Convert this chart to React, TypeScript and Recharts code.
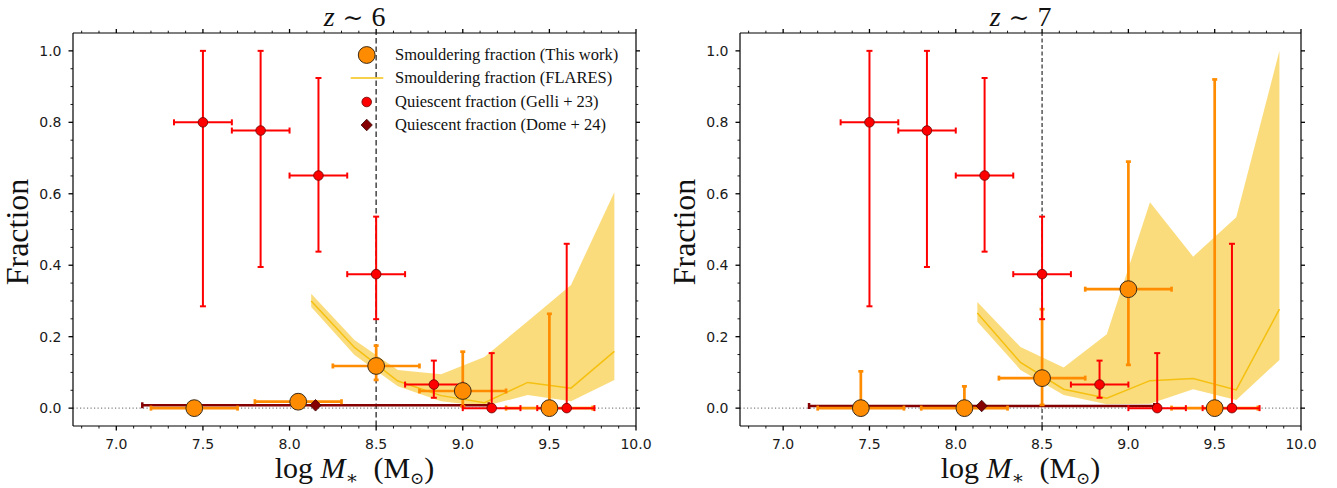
import React from 'react';
import {
  ComposedChart, Area, Line, Scatter, ErrorBar, XAxis, YAxis, ReferenceLine, Legend,
} from 'recharts';

// FLARES smouldering fraction, 0.25 dex bins
const FLARES_MASS = [8.125, 8.375, 8.625, 8.875, 9.125, 9.375, 9.625, 9.875];
const FLARES_Z6_MID = [0.300, 0.170, 0.076, 0.035, 0.015, 0.072, 0.056, 0.159];
const FLARES_Z6_LO = [0.283, 0.149, 0.061, 0.019, 0.005, 0.037, 0.019, 0.079];
const FLARES_Z6_HI = [0.320, 0.191, 0.107, 0.095, 0.143, 0.243, 0.345, 0.604];
const FLARES_Z7_MID = [0.266, 0.128, 0.053, 0.028, 0.077, 0.083, 0.051, 0.277];
const FLARES_Z7_LO = [0.242, 0.107, 0.037, 0.011, 0.012, 0.053, 0.023, 0.135];
const FLARES_Z7_HI = [0.297, 0.171, 0.114, 0.207, 0.576, 0.424, 0.534, 1.0];

// this work
const SM_MASS = [7.45, 8.05, 8.5, 9.0, 9.5];
const SM_MASS_LO = [7.2, 7.8, 8.25, 8.75, 9.25];
const SM_MASS_HI = [7.7, 8.3, 8.75, 9.25, 9.75];
const SM_Z6 = [0.0, 0.018, 0.118, 0.048, 0.0];
const SM_Z6_LO = [0.0, 0.018, 0.079, 0.005, 0.0];
const SM_Z6_HI = [0.0, 0.018, 0.175, 0.158, 0.264];
const SM_Z7 = [0.0, 0.0, 0.084, 0.333, 0.0];
const SM_Z7_LO = [0.0, 0.0, 0.009, 0.121, 0.0];
const SM_Z7_HI = [0.103, 0.061, 0.277, 0.69, 0.92];

// Gelli+23 quiescent fraction (same in both panels)
const GELLI_MASS = [7.5, 7.833, 8.167, 8.5, 8.833, 9.167, 9.6];
const GELLI_MASS_LO = [7.333, 7.667, 8.0, 8.333, 8.667, 9.0, 9.43];
const GELLI_MASS_HI = [7.667, 8.0, 8.333, 8.667, 9.0, 9.333, 9.76];
const GELLI_FRAC = [0.8, 0.777, 0.651, 0.375, 0.066, 0.0, 0.0];
const GELLI_FRAC_LO = [0.285, 0.395, 0.438, 0.249, 0.029, 0.0, 0.0];
const GELLI_FRAC_HI = [1.0, 1.0, 0.924, 0.536, 0.133, 0.154, 0.46];

// Dome+24
const DOME_MASS = [8.15];
const DOME_MASS_LO = [7.15];
const DOME_MASS_HI = [9.15];
const DOME_Z6 = [0.008];
const DOME_Z7 = [0.006];

const X_MAJOR = [7.0, 7.5, 8.0, 8.5, 9.0, 9.5, 10.0];
const Y_MAJOR = [0.0, 0.2, 0.4, 0.6, 0.8, 1.0];
const MASS_CUT = 8.5;

const X_MINOR = Array.from({ length: 33 }, (_, i) => +(6.8 + i * 0.1).toFixed(2)).filter(v => !X_MAJOR.includes(v));
const Y_MINOR = Array.from({ length: 20 }, (_, i) => +(0.05 * (i + 1)).toFixed(2)).filter(v => !Y_MAJOR.includes(v));
const X_TICKS = [...X_MAJOR, ...X_MINOR].sort((a, b) => a - b);
const Y_TICKS = [...Y_MAJOR, ...Y_MINOR].sort((a, b) => a - b);

const ORANGE = '#FF8C00';
const RED = '#FF0000';
const DARKRED = '#850000';
const GOLD = '#F5C010';

const isMajor = (v: number, majors: number[]) => majors.some(m => Math.abs(m - v) < 1e-6);

const points = (x: number[], xlo: number[], xhi: number[], y: number[], ylo?: number[], yhi?: number[]) =>
  x.map((v, i) => ({
    x: v,
    y: y[i],
    ex: [v - xlo[i], xhi[i] - v],
    ey: ylo && yhi ? [y[i] - ylo[i], yhi[i] - y[i]] : [0, 0],
  }));

const flaresRows = (mid: number[], lo: number[], hi: number[]) =>
  FLARES_MASS.map((m, i) => ({ x: m, mid: mid[i], band: [lo[i], hi[i]] }));

const GELLI_PTS = points(GELLI_MASS, GELLI_MASS_LO, GELLI_MASS_HI, GELLI_FRAC, GELLI_FRAC_LO, GELLI_FRAC_HI);

// ---- ticks ----
const BottomTick = (p: any) => {
  const major = isMajor(p.payload.value, X_MAJOR);
  return (
    <g>
      <line x1={p.x} x2={p.x} y1={p.y} y2={p.y + (major ? 4.5 : 2.5)} stroke="#000" strokeWidth={major ? 1.3 : 0.9} />
      {major && (
        <text x={p.x} y={p.y + 22.5} textAnchor="middle" fontFamily="DejaVu Sans" fontSize={14} fill="#1a1a1a">
          {p.payload.value.toFixed(1)}
        </text>
      )}
    </g>
  );
};

const TopTick = (p: any) => {
  const major = isMajor(p.payload.value, X_MAJOR);
  return <line x1={p.x} x2={p.x} y1={p.y} y2={p.y - (major ? 4 : 2.3)} stroke="#000" strokeWidth={major ? 1.3 : 0.9} />;
};

const LeftTick = (p: any) => {
  const major = isMajor(p.payload.value, Y_MAJOR);
  return (
    <g>
      <line x1={p.x} x2={p.x - (major ? 4.5 : 2.5)} y1={p.y} y2={p.y} stroke="#000" strokeWidth={major ? 1.3 : 0.9} />
      {major && (
        <text x={p.x - 11.5} y={p.y + 5} textAnchor="end" fontFamily="DejaVu Sans" fontSize={14} fill="#1a1a1a">
          {p.payload.value.toFixed(1)}
        </text>
      )}
    </g>
  );
};

const RightTick = (p: any) => {
  const major = isMajor(p.payload.value, Y_MAJOR);
  return <line x1={p.x} x2={p.x + (major ? 4 : 2.3)} y1={p.y} y2={p.y} stroke="#000" strokeWidth={major ? 1.3 : 0.9} />;
};

// ---- markers ----
const NoMarker = () => <g />;
const OrangeDot = (p: any) => <circle cx={p.cx} cy={p.cy} r={8.4} fill={ORANGE} stroke="#3a2a18" strokeWidth={1} />;
const RedDot = (p: any) => <circle cx={p.cx} cy={p.cy} r={4.8} fill={RED} stroke="#6a0000" strokeWidth={0.8} />;
const Diamond = (p: any) => (
  <polygon
    points={`${p.cx},${p.cy - 5.8} ${p.cx + 5.6},${p.cy} ${p.cx},${p.cy + 5.8} ${p.cx - 5.6},${p.cy}`}
    fill={DARKRED}
    stroke="#3a0000"
    strokeWidth={0.8}
  />
);

const SERIF = '"Liberation Serif", "DejaVu Serif", serif';

const LEGEND_ITEMS = [
  { key: 'sm', label: 'Smouldering fraction (This work)' },
  { key: 'flares', label: 'Smouldering fraction (FLARES)' },
  { key: 'gelli', label: 'Quiescent fraction (Gelli + 23)' },
  { key: 'dome', label: 'Quiescent fraction (Dome + 24)' },
];

const LegendIcon = ({ kind }: { kind: string }) => (
  <svg width={50} height={22}>
    {kind === 'sm' && <circle cx={24.7} cy={11} r={8.4} fill={ORANGE} stroke="#3a2a18" strokeWidth={1} />}
    {kind === 'flares' && <line x1={8.7} x2={41.3} y1={11} y2={11} stroke={GOLD} strokeWidth={1.5} />}
    {kind === 'gelli' && <circle cx={24.7} cy={11} r={4.8} fill={RED} stroke="#6a0000" strokeWidth={0.8} />}
    {kind === 'dome' && (
      <polygon points="24.7,5.2 30.3,11 24.7,16.8 19.1,11" fill={DARKRED} stroke="#3a0000" strokeWidth={0.8} />
    )}
  </svg>
);

const SmoulderLegend = () => (
  <div style={{ fontFamily: SERIF, fontSize: 16.5, color: '#111' }}>
    {LEGEND_ITEMS.map(it => (
      <div key={it.key} style={{ display: 'flex', alignItems: 'center', height: 23.3, whiteSpace: 'nowrap' }}>
        <LegendIcon kind={it.key} />
        <span style={{ marginLeft: 3 }}>{it.label}</span>
      </div>
    ))}
  </div>
);

interface PanelProps {
  z: string;
  width: number;
  yAxisWidth: number;
  rightMargin: number;
  flares: { x: number; mid: number; band: number[] }[];
  sm: ReturnType<typeof points>;
  dome: ReturnType<typeof points>;
  cutStroke: string;
  cutWidth: number;
  cutDash: string;
  legend?: boolean;
}

function Panel({ z, width, yAxisWidth, rightMargin, flares, sm, dome, cutStroke, cutWidth, cutDash, legend }: PanelProps) {
  const plotLeft = yAxisWidth;
  const plotRight = width - rightMargin - 10;
  const cx = (plotLeft + plotRight) / 2;
  return (
    <ComposedChart
      width={width}
      height={488}
      data={flares}
      margin={{ top: 23, right: rightMargin, bottom: 32, left: 0 }}
    >
      <XAxis
        dataKey="x"
        type="number"
        domain={[6.75, 10]}
        allowDataOverflow
        ticks={X_TICKS}
        interval={0}
        tickSize={0}
        tickMargin={0}
        tickLine={false}
        tick={BottomTick}
        height={30}
        axisLine={{ stroke: '#000', strokeWidth: 1.2 }}
        label={() => (
          <text x={cx} y={478} textAnchor="middle" fontFamily={SERIF} fontSize={30} fill="#111">
            log <tspan fontStyle="italic">M</tspan>
            <tspan fontSize={19} dy={6}>∗</tspan>
            <tspan dy={-6}>{'\u2002(M'}</tspan>
            <tspan fontSize={17} dy={6}>⊙</tspan>
            <tspan dy={-6}>)</tspan>
          </text>
        )}
      />
      <XAxis
        xAxisId="top"
        dataKey="x"
        orientation="top"
        type="number"
        domain={[6.75, 10]}
        allowDataOverflow
        ticks={X_TICKS}
        interval={0}
        tickSize={0}
        tickMargin={0}
        tickLine={false}
        tick={TopTick}
        height={10}
        axisLine={{ stroke: '#000', strokeWidth: 1.2 }}
        label={() => (
          <text x={cx} y={26} textAnchor="middle" fontFamily={SERIF} fontSize={28} fill="#111">
            <tspan fontStyle="italic">z</tspan>
            <tspan fontFamily="DejaVu Serif" fontSize={25}> ∼ </tspan>
            <tspan>{z}</tspan>
          </text>
        )}
      />
      <YAxis
        dataKey="y"
        type="number"
        domain={[-0.05, 1.05]}
        allowDataOverflow
        ticks={Y_TICKS}
        interval={0}
        tickSize={0}
        tickMargin={0}
        tickLine={false}
        tick={LeftTick}
        width={yAxisWidth}
        axisLine={{ stroke: '#000', strokeWidth: 1.2 }}
        label={() => (
          <text
            transform={`translate(${plotLeft - 44.8},232) rotate(-90)`}
            textAnchor="middle"
            fontFamily={SERIF}
            fontSize={32}
            fill="#111"
          >
            Fraction
          </text>
        )}
      />
      <YAxis
        yAxisId="right"
        orientation="right"
        type="number"
        domain={[-0.05, 1.05]}
        allowDataOverflow
        ticks={Y_TICKS}
        interval={0}
        tickSize={0}
        tickMargin={0}
        tickLine={false}
        tick={RightTick}
        width={10}
        axisLine={{ stroke: '#000', strokeWidth: 1.2 }}
      />

      <ReferenceLine y={0} stroke="#808080" strokeWidth={1.2} strokeDasharray="1.2 2.3" />
      <ReferenceLine x={MASS_CUT} stroke={cutStroke} strokeWidth={cutWidth} strokeDasharray={cutDash} />

      {/* band bound to the top/right axes (same domains) so those axes carry data */}
      <Area
        xAxisId="top"
        yAxisId="right"
        dataKey="band"
        type="linear"
        stroke="none"
        fill={GOLD}
        fillOpacity={0.55}
        isAnimationActive={false}
      />
      <Line dataKey="mid" type="linear" stroke={GOLD} strokeWidth={1.5} dot={false} isAnimationActive={false} />

      {/* error bars first, markers on top */}
      <Scatter data={dome} shape={NoMarker} isAnimationActive={false}>
        <ErrorBar dataKey="ex" direction="x" width={3} stroke={DARKRED} strokeWidth={2.5} />
      </Scatter>
      <Scatter data={sm} shape={NoMarker} isAnimationActive={false}>
        <ErrorBar dataKey="ex" direction="x" width={2.5} stroke={ORANGE} strokeWidth={2.7} />
        <ErrorBar dataKey="ey" direction="y" width={2.5} stroke={ORANGE} strokeWidth={2.7} />
      </Scatter>
      <Scatter data={GELLI_PTS} shape={NoMarker} isAnimationActive={false}>
        <ErrorBar dataKey="ex" direction="x" width={3} stroke={RED} strokeWidth={2} />
        <ErrorBar dataKey="ey" direction="y" width={3} stroke={RED} strokeWidth={2} />
      </Scatter>

      <Scatter data={dome} shape={Diamond} isAnimationActive={false} />
      <Scatter data={sm} shape={OrangeDot} isAnimationActive={false} />
      <Scatter data={GELLI_PTS} shape={RedDot} isAnimationActive={false} />

      {legend && (
        <Legend
          content={() => <SmoulderLegend />}
          layout="vertical"
          align="center"
          verticalAlign="middle"
          wrapperStyle={{ position: 'absolute', left: 342, top: 43.5, width: 300, height: 94 }}
        />
      )}
    </ComposedChart>
  );
}

export default function App() {
  const z6 = flaresRows(FLARES_Z6_MID, FLARES_Z6_LO, FLARES_Z6_HI);
  const z7 = flaresRows(FLARES_Z7_MID, FLARES_Z7_LO, FLARES_Z7_HI);
  const sm6 = points(SM_MASS, SM_MASS_LO, SM_MASS_HI, SM_Z6, SM_Z6_LO, SM_Z6_HI);
  const sm7 = points(SM_MASS, SM_MASS_LO, SM_MASS_HI, SM_Z7, SM_Z7_LO, SM_Z7_HI);
  const dome6 = points(DOME_MASS, DOME_MASS_LO, DOME_MASS_HI, DOME_Z6);
  const dome7 = points(DOME_MASS, DOME_MASS_LO, DOME_MASS_HI, DOME_Z7);

  return (
    <div style={{ position: 'absolute', left: 0, top: 0, width: 1337, height: 488, background: '#fff' }}>
      <div style={{ position: 'absolute', left: 0, top: 0 }}>
        <Panel
          z="6"
          width={660}
          yAxisWidth={73}
          rightMargin={14}
          flares={z6}
          sm={sm6}
          dome={dome6}
          cutStroke="#505050"
          cutWidth={1.6}
          cutDash="5.5 3"
          legend
        />
      </div>
      <div style={{ position: 'absolute', left: 660, top: 0 }}>
        <Panel
          z="7"
          width={677}
          yAxisWidth={80}
          rightMargin={26}
          flares={z7}
          sm={sm7}
          dome={dome7}
          cutStroke="#000"
          cutWidth={1}
          cutDash="4 2.5"
        />
      </div>
    </div>
  );
}
